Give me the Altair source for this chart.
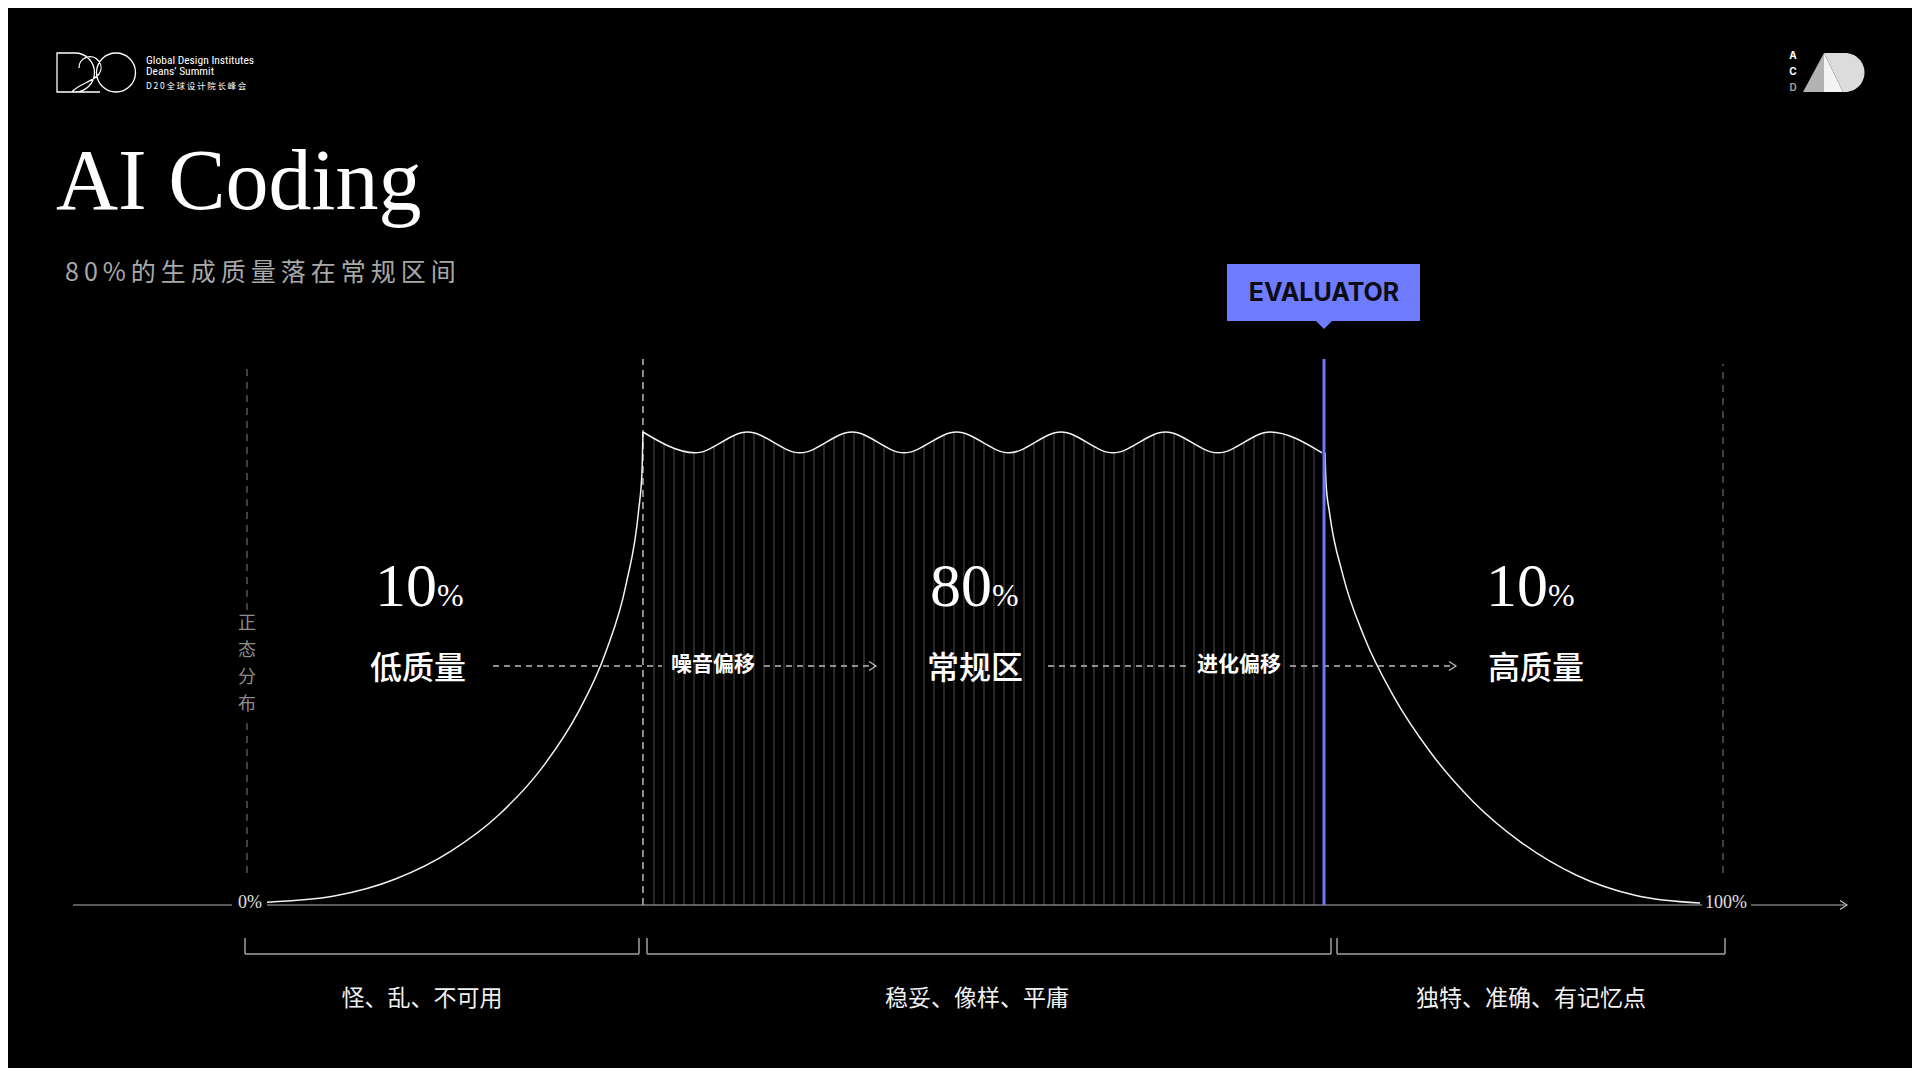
import altair as alt
import pandas as pd

# ---------------- data ----------------
TITLE = "AI Coding"
SUBTITLE = "80%的生成质量落在常规区间"
Y_LABEL = "正态分布"
MARKER = "EVALUATOR"
ZONES = ["低质量", "常规区", "高质量"]
SHARES = [10, 80, 10]
ZONE_NOTES = ["怪、乱、不可用", "稳妥、像样、平庸", "独特、准确、有记忆点"]
SHIFTS = ["噪音偏移", "进化偏移"]
END_TICKS = ["0%", "100%"]
HEADER = ["Global Design Institutes", "Deans’ Summit", "D20全球设计院长峰会"]
BRAND = ["A", "C", "D"]

# distribution curve: x = quality percentile, y = relative density (plateau top = 100)
LEFT_X = [0, 4.68, 8.95, 12.82, 16.24, 19.19, 21.66, 23.61, 25.03, 25.90, 26.13, 26.20]
LEFT_Y = [0.6, 1.9, 5.5, 11.4, 19.3, 29.1, 40.6, 53.5, 67.9, 83.5, 91.6, 100]
WAVE_X = [26.20, 29.83, 33.48, 37.14, 40.77, 44.39, 48.05, 51.71, 55.33, 58.95, 62.61, 66.27, 69.90, 73.52]
WAVE_Y = [100, 95.6, 100, 95.6, 100, 95.6, 100, 95.6, 100, 95.6, 100, 95.6, 100, 95.6]
RIGHT_X = [73.73, 73.80, 74.05, 74.98, 76.47, 78.51, 81.05, 84.04, 87.46, 91.25, 95.40, 99.86]
RIGHT_Y = [95.6, 89.2, 82.8, 69.7, 56.6, 44.1, 32.4, 21.9, 13.1, 6.3, 2.0, 0.4]
EVALUATOR_AT = 73.66
PLATEAU_START = 26.20

# ---------------- layout ----------------
W, H = 1904, 1060
PX0, PX100 = 267, 1702      # screen x of 0% / 100%
PY0, PY100 = 905, 432       # screen y of density 0 / 100
KX = (PX100 - PX0) / 100
KY = (PY0 - PY100) / 100


def X(px):
    return (px - PX0) / KX


def Y(py):
    return (PY0 - py) / KY


XS = alt.Scale(domain=[X(8), X(8 + W)], nice=False, zero=False)
YS = alt.Scale(domain=[Y(8 + H), Y(8)], nice=False, zero=False)


def ex(f="x"):
    return alt.X(f + ":Q", scale=XS, axis=None)


def ey(f="y"):
    return alt.Y(f + ":Q", scale=YS, axis=None)


CJK = "Noto Sans CJK SC"
SERIF = "Liberation Serif"
BLUE = "#6f7cff"
layers = []

# hatch lines under the plateau
hatch = (
    alt.Chart(alt.sequence(X(654), X(1318), 10 / KX, as_="x"))
    .transform_calculate(y="0", y2="100")
    .mark_rule(color="#4f4f4f", strokeWidth=1)
    .encode(x=ex(), y=ey(), y2="y2:Q")
)
layers.append(hatch)

# black mask above the wavy plateau
wave_df = pd.DataFrame({"x": WAVE_X, "y": WAVE_Y})
mask = (
    alt.Chart(wave_df)
    .transform_calculate(top="100.5")
    .mark_area(color="#000000", interpolate="monotone")
    .encode(x=ex(), y=ey(), y2="top:Q")
)
layers.append(mask)

# dashed guide verticals
side_v = pd.DataFrame({
    "x": [X(247), X(247), X(1723)],
    "y": [Y(610), Y(873), Y(873)],
    "y2": [Y(364), Y(722), Y(364)],
})
layers.append(alt.Chart(side_v).mark_rule(color="#6a6a6a", strokeDash=[7, 6], strokeWidth=1.2)
              .encode(x=ex(), y=ey(), y2="y2:Q"))
mid_v = pd.DataFrame({"x": [PLATEAU_START], "y": [0], "y2": [Y(359)]})
layers.append(alt.Chart(mid_v).mark_rule(color="#d5d5d5", strokeDash=[7, 5], strokeWidth=1.3)
              .encode(x=ex(), y=ey(), y2="y2:Q"))

# curve
curve_df = pd.concat([
    pd.DataFrame({"x": LEFT_X, "y": LEFT_Y, "seg": "left"}),
    pd.DataFrame({"x": WAVE_X, "y": WAVE_Y, "seg": "wave"}),
    pd.DataFrame({"x": RIGHT_X, "y": RIGHT_Y, "seg": "right"}),
])
layers.append(alt.Chart(curve_df).mark_line(color="#f2f2f2", strokeWidth=1.5, interpolate="monotone")
              .encode(x=ex(), y=ey(), detail="seg:N"))

# baseline axis
base_df = pd.DataFrame({"x": [X(73), 0, X(1751)], "x2": [X(232), 100, X(1845)], "y": [0, 0, 0]})
layers.append(alt.Chart(base_df).mark_rule(color="#b5b5b5", strokeWidth=1.2)
              .encode(x=ex(), x2="x2:Q", y=ey()))

# horizontal dashed arrows
arr_df = pd.DataFrame({
    "x": [X(493), X(764), X(1048), X(1290)],
    "x2": [X(662), X(876), X(1188), X(1456)],
    "y": [Y(666)] * 4,
})
layers.append(alt.Chart(arr_df).mark_rule(color="#bdbdbd", strokeDash=[6, 5], strokeWidth=1.3)
              .encode(x=ex(), x2="x2:Q", y=ey()))
head_df = pd.DataFrame({"x": [X(876), X(1456), X(1847)], "y": [Y(666), Y(666), 0]})
layers.append(alt.Chart(head_df).mark_point(shape="M-7,-4.5L0,0L-7,4.5", filled=False, size=4,
                                            strokeWidth=1.2, color="#c0c0c0", opacity=1)
              .encode(x=ex(), y=ey()))

# evaluator line
ev_df = pd.DataFrame({"x": [EVALUATOR_AT], "y": [0], "y2": [Y(359)]})
layers.append(alt.Chart(ev_df).mark_rule(color="#6b79f6", strokeWidth=3)
              .encode(x=ex(), y=ey(), y2="y2:Q"))

# evaluator tag
tag_df = pd.DataFrame({"x": [X(1227)], "x2": [X(1420)], "y": [Y(321)], "y2": [Y(264)]})
layers.append(alt.Chart(tag_df).mark_rect(color=BLUE).encode(x=ex(), x2="x2:Q", y=ey(), y2="y2:Q"))
tip_df = pd.DataFrame({"x": [EVALUATOR_AT], "y": [Y(320)]})
layers.append(alt.Chart(tip_df).mark_point(shape="M-9,0L9,0L0,9Z", filled=True, size=4, color=BLUE, opacity=1)
              .encode(x=ex(), y=ey()))
tag_txt = pd.DataFrame({"x": [EVALUATOR_AT], "y": [Y(293)], "t": [MARKER]})
layers.append(alt.Chart(tag_txt).mark_text(font="Inter", fontSize=25, fontWeight="bold", color="#0c0c14",
                                           align="center", baseline="middle")
              .encode(x=ex(), y=ey(), text="t:N"))

# brackets
br_df = pd.DataFrame({"x": [X(245), X(647), X(1337)], "x2": [X(639), X(1331), X(1725)],
                      "y": [Y(954)] * 3, "y2": [Y(938)] * 3})
layers.append(alt.Chart(br_df).mark_rule(color="#a0a0a0", strokeWidth=1.5)
              .encode(x=ex(), x2="x2:Q", y=ey()))
layers.append(alt.Chart(br_df).mark_rule(color="#a0a0a0", strokeWidth=1.5)
              .encode(x=ex(), y=ey(), y2="y2:Q"))
layers.append(alt.Chart(br_df).mark_rule(color="#a0a0a0", strokeWidth=1.5)
              .encode(x=ex("x2"), y=ey(), y2="y2:Q"))

# zone texts
zone_df = pd.DataFrame({"x": [X(418), X(975), X(1536)], "y": [Y(669)] * 3, "t": ZONES})
layers.append(alt.Chart(zone_df).mark_text(font=CJK, fontSize=32, fontWeight=500, color="#ffffff",
                                           align="center", baseline="middle")
              .encode(x=ex(), y=ey(), text="t:N"))
share_df = pd.DataFrame({"x": [X(422 + 15), X(977 + 15), X(1533 + 15)], "y": [Y(606)] * 3,
                         "t": [str(s) for s in SHARES], "p": ["%"] * 3})
layers.append(alt.Chart(share_df).mark_text(font=SERIF, fontSize=62, color="#ffffff",
                                            align="right", baseline="alphabetic")
              .encode(x=ex(), y=ey(), text="t:N"))
layers.append(alt.Chart(share_df).mark_text(font=SERIF, fontSize=32, color="#ffffff",
                                            align="left", baseline="alphabetic")
              .encode(x=ex(), y=ey(), text="p:N"))
shift_df = pd.DataFrame({"x": [X(713), X(1239)], "y": [Y(665)] * 2, "t": SHIFTS})
layers.append(alt.Chart(shift_df).mark_text(font=CJK, fontSize=21, fontWeight="bold", color="#ffffff",
                                            align="center", baseline="middle")
              .encode(x=ex(), y=ey(), text="t:N"))
note_df = pd.DataFrame({"x": [X(422), X(977), X(1531)], "y": [Y(999)] * 3, "t": ZONE_NOTES})
layers.append(alt.Chart(note_df).mark_text(font=CJK, fontSize=23, color="#f0f0f0",
                                           align="center", baseline="middle")
              .encode(x=ex(), y=ey(), text="t:N"))
tick_df = pd.DataFrame({"x": [X(250), X(1726)], "y": [Y(908)] * 2, "t": END_TICKS})
layers.append(alt.Chart(tick_df).mark_text(font=SERIF, fontSize=18, color="#e0e0e0",
                                           align="center", baseline="alphabetic")
              .encode(x=ex(), y=ey(), text="t:N"))
# vertical label, one glyph per row
ylab_df = pd.DataFrame({"x": [X(247)] * len(Y_LABEL),
                        "y": [Y(624 + 27 * i) for i in range(len(Y_LABEL))],
                        "t": list(Y_LABEL)})
layers.append(alt.Chart(ylab_df).mark_text(font=CJK, fontSize=18, color="#8c8c8c",
                                           align="center", baseline="middle")
              .encode(x=ex(), y=ey(), text="t:N"))

# title & subtitle
title_df = pd.DataFrame({"x": [X(56)], "y": [Y(209)], "t": [TITLE]})
layers.append(alt.Chart(title_df).mark_text(font=SERIF, fontSize=86, color="#ffffff",
                                            align="left", baseline="alphabetic")
              .encode(x=ex(), y=ey(), text="t:N"))
sub_df = pd.DataFrame({"x": [X(65)], "y": [Y(273)], "t": ["\u2009".join(SUBTITLE)]})
layers.append(alt.Chart(sub_df).mark_text(font=CJK, fontSize=25, color="#a8a8a8",
                                          align="left", baseline="middle")
              .encode(x=ex(), y=ey(), text="t:N"))

# header (left logo)
logo_path = ("M-39,-19L-21,-19A19.5,19.5 0 0 1 -21,20L-39,20Z"
             "M0.5,0.5A19.5,19.5 0 1 1 39.5,0.5A19.5,19.5 0 1 1 0.5,0.5Z"
             "M-17,-4A11,11 0 1 1 3,2C-3,10 -18,12 -24,20L4,20")
logo_df = pd.DataFrame({"x": [X(96)], "y": [Y(72)]})
layers.append(alt.Chart(logo_df).mark_point(shape=logo_path, filled=False, size=4, strokeWidth=1.3,
                                            color="#ffffff", opacity=1)
              .encode(x=ex(), y=ey()))
hdr_df = pd.DataFrame({"x": [X(146)] * 2, "y": [Y(64), Y(75)], "t": HEADER[:2]})
layers.append(alt.Chart(hdr_df).mark_text(font="Liberation Sans Narrow, Roboto Condensed, Liberation Sans",
                                          fontSize=11.5, color="#ffffff", align="left", baseline="alphabetic")
              .encode(x=ex(), y=ey(), text="t:N"))
hdr2_df = pd.DataFrame({"x": [X(146)], "y": [Y(86)], "t": ["\u2009".join(HEADER[2])]})
layers.append(alt.Chart(hdr2_df).mark_text(font=CJK, fontSize=8.5, color="#ffffff", align="left",
                                           baseline="middle")
              .encode(x=ex(), y=ey(), text="t:N"))

# header (right brand mark)
brand_df = pd.DataFrame({"x": [X(1834)], "y": [Y(72)]})
for path, fill in [("M-31,20L-10,-19L-10,20Z", "#b3b3b3"),
                   ("M-10,-19L9,20L-10,20Z", "#f4f4f4"),
                   ("M-10,-19L11,-19A19.5,19.5 0 0 1 11,20L9,20Z", "#dcdcdc")]:
    layers.append(alt.Chart(brand_df).mark_point(shape=path, filled=True, size=4, color=fill,
                                                 opacity=1, strokeWidth=0)
                  .encode(x=ex(), y=ey()))
brand_txt = pd.DataFrame({"x": [X(1793)] * 3, "y": [Y(56), Y(72), Y(88)], "t": BRAND,
                          "c": ["#ffffff", "#ffffff", "#9a9a9a"]})
layers.append(alt.Chart(brand_txt).mark_text(font="Inter", fontSize=10, fontWeight="bold",
                                             align="center", baseline="middle")
              .encode(x=ex(), y=ey(), text="t:N", color=alt.Color("c:N", scale=None)))

chart = (
    alt.layer(*layers)
    .properties(width=W, height=H, background="#000000", padding=0,
                autosize=alt.AutoSizeParams(type="none"))
    .configure_view(stroke=None)
)

chart.save("out.html", embed_options={"renderer": "svg", "actions": False})
